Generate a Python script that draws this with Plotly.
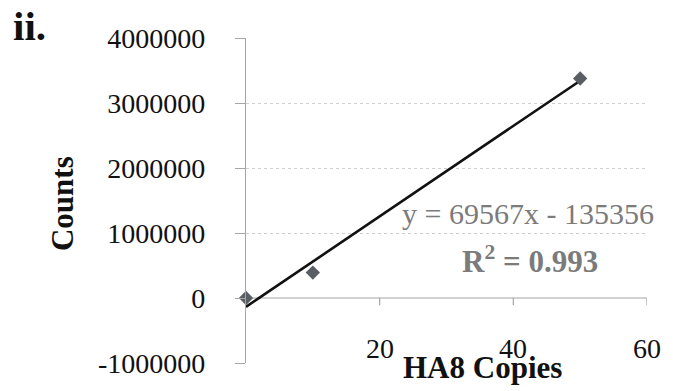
import plotly.graph_objects as go

# HA8 copy number vs. measured counts
copies = [0, 10, 50]
counts = [0, 391000, 3377000]

# Linear fit reported on the chart
slope = 69567
intercept = -135356
r_squared = 0.993

y_tick_values = [-1000000, 0, 1000000, 2000000, 3000000, 4000000]
y_tick_labels = ["-1000000", "0", "1000000", "2000000", "3000000", "4000000"]
x_tick_values = [20, 40, 60]
x_tick_labels = ["20", "40", "60"]

SERIF = "Liberation Serif, Times New Roman, serif"
AXIS_GREY = "#a6a6a6"
TEXT_GREY = "#7b7b7b"

fig = go.Figure()

# Trendline across the measured range
x_fit = [min(copies), max(copies)]
y_fit = [slope * x + intercept for x in x_fit]
fig.add_trace(go.Scatter(
    x=x_fit, y=y_fit, mode="lines",
    line=dict(color="#111111", width=2.6),
    hoverinfo="skip", showlegend=False, cliponaxis=False,
))

# Measured points
fig.add_trace(go.Scatter(
    x=copies, y=counts, mode="markers",
    marker=dict(symbol="diamond", size=11, color="#5a5d63"),
    showlegend=False, cliponaxis=False,
))

# Horizontal axis drawn through y = 0 with small downward ticks
fig.add_shape(type="line", xref="x", yref="y", x0=0, x1=60, y0=0, y1=0,
              line=dict(color=AXIS_GREY, width=1.2), layer="below")
for xv in x_tick_values:
    fig.add_shape(type="line", xref="x", yref="y", x0=xv, x1=xv,
                  y0=0, y1=-110000, line=dict(color=AXIS_GREY, width=1.2))

annotations = []
for xv, lab in zip(x_tick_values, x_tick_labels):
    annotations.append(dict(
        x=xv, xref="x", y=0.046, yref="paper", text=lab, showarrow=False,
        xanchor="center", yanchor="middle",
        font=dict(family=SERIF, size=28, color="#111111"),
    ))

annotations += [
    dict(x=0.591, y=-0.015, xref="paper", yref="paper", text="<b>HA8 Copies</b>",
         showarrow=False, xanchor="center", yanchor="middle",
         font=dict(family=SERIF, size=31, color="#111111")),
    dict(x=-0.459, y=0.492, xref="paper", yref="paper", text="<b>Counts</b>",
         showarrow=False, textangle=-90, xanchor="center", yanchor="middle",
         font=dict(family=SERIF, size=31, color="#111111")),
    dict(x=-0.585, y=1.115, xref="paper", yref="paper", text="<b>ii.</b>",
         showarrow=False, xanchor="left", yanchor="top",
         font=dict(family=SERIF, size=41, color="#111111")),
    dict(x=1.022, y=0.4615, xref="paper", yref="paper",
         text=f"y = {slope}x - {abs(intercept)}",
         showarrow=False, xanchor="right", yanchor="middle",
         font=dict(family=SERIF, size=30, color=TEXT_GREY)),
    dict(x=0.708, y=0.317, xref="paper", yref="paper",
         text=f"<b>R<sup>2</sup> = {r_squared}</b>",
         showarrow=False, xanchor="center", yanchor="middle",
         font=dict(family=SERIF, size=31, color=TEXT_GREY)),
]

fig.update_layout(
    width=673, height=391, autosize=False,
    margin=dict(l=246, r=26, t=38, b=28),
    paper_bgcolor="white", plot_bgcolor="white",
    showlegend=False,
    annotations=annotations,
    xaxis=dict(
        range=[0, 60], showgrid=False, zeroline=False, showline=False,
        showticklabels=False, ticks="",
    ),
    yaxis=dict(
        range=[-1000000, 4000000],
        tickvals=y_tick_values, ticktext=y_tick_labels,
        showline=True, linecolor=AXIS_GREY, linewidth=1.2,
        ticks="outside", ticklen=10, tickcolor=AXIS_GREY, tickwidth=1.2,
        ticklabelstandoff=24,
        showgrid=True, gridcolor="#cfcfcf", griddash="dot", gridwidth=1.2,
        zeroline=False,
        tickfont=dict(family=SERIF, size=28, color="#111111"),
    ),
)

fig.write_html("out.html")
